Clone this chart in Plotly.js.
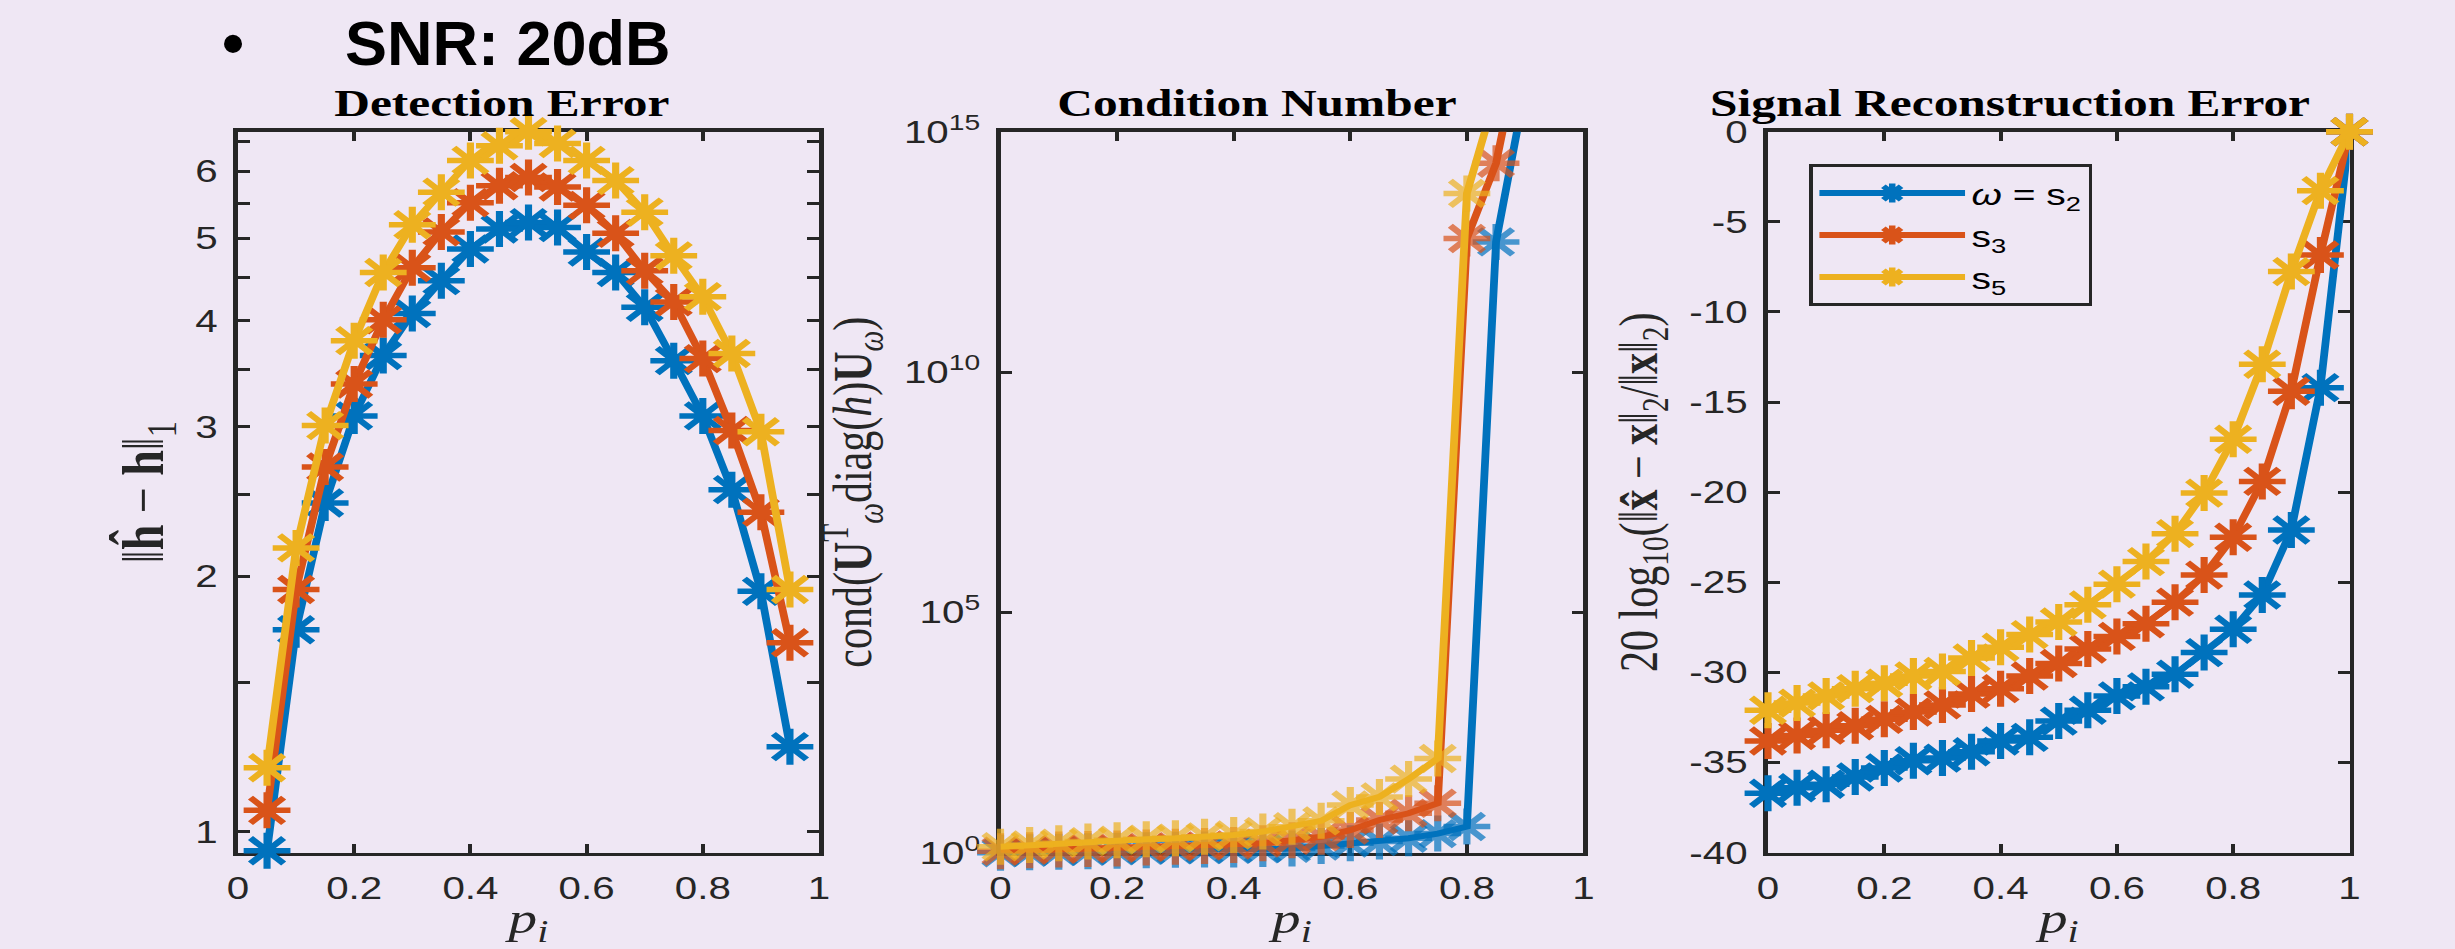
<!DOCTYPE html>
<html>
<head>
<meta charset="utf-8">
<script src="https://cdn.plot.ly/plotly-3.0.1.min.js"></script>
<style>
html, body { margin: 0; padding: 0; background: #EFE7F4; width: 2455px; height: 949px; overflow: hidden; }
#chart { position: absolute; left: 0; top: 0; width: 1888px; height: 949px; transform-origin: 0 0; }
#slideTitle { position: absolute; left: 222px; top: 12px; font-family: 'Liberation Sans', Arial, sans-serif;
  font-weight: bold; font-size: 63px; line-height: 1; color: #000; white-space: nowrap; }
#slideTitle .bullet { display: inline-block; width: 123px; }
</style>
</head>
<body>
<div id="chart"></div>
<div id="slideTitle"><span class="bullet">•</span>SNR: 20dB</div>
<script>
// ---------------- data ----------------
const seriesNames = ['<i>ω</i> = s<sub>2</sub>', 's<sub>3</sub>', 's<sub>5</sub>'];
const seriesColors = ['#0072BD', '#D95319', '#EDB120'];

// Panel 1: Detection Error
const detX = [0.05, 0.10, 0.15, 0.20, 0.25, 0.30, 0.35, 0.40, 0.45, 0.50, 0.55, 0.60, 0.65, 0.70, 0.75, 0.80, 0.85, 0.90, 0.95];
const detS2 = [0.95, 1.73, 2.44, 3.09, 3.64, 4.08, 4.46, 4.86, 5.13, 5.22, 5.15, 4.82, 4.56, 4.15, 3.59, 3.09, 2.53, 1.92, 1.26];
const detS3 = [1.06, 1.93, 2.69, 3.37, 4.01, 4.62, 5.09, 5.51, 5.77, 5.90, 5.75, 5.47, 5.07, 4.58, 4.21, 3.61, 2.97, 2.38, 1.67];
const detS5 = [1.19, 2.16, 3.01, 3.79, 4.56, 5.19, 5.67, 6.18, 6.43, 6.68, 6.47, 6.18, 5.85, 5.37, 4.77, 4.27, 3.66, 2.96, 1.93];
const detTickVals = [1, 2, 3, 4, 5, 6];
const detTickText = ['1', '2', '3', '4', '5', '6'];
const detMinorTicks = [1.5, 2.5, 3.5, 4.5, 5.5, 6.5];

// Panel 2: Condition Number
const condX = [0, 0.05, 0.10, 0.15, 0.20, 0.25, 0.30, 0.35, 0.40, 0.45, 0.50, 0.55, 0.60, 0.65, 0.70, 0.75, 0.80, 0.85, 0.90];
const condS2 = [1.00, 1.02, 1.05, 1.07, 1.10, 1.12, 1.15, 1.16, 1.17, 1.20, 1.23, 1.38, 1.58, 1.70, 2.0, 2.5, 3.5, 5.1e12, 8e15];
const condS3 = [1.07, 1.12, 1.17, 1.20, 1.23, 1.29, 1.33, 1.38, 1.45, 1.58, 1.82, 2.14, 2.95, 4.79, 6.61, 10.7, 6.0e12, 2.2e14, 2e17];
const condS5 = [1.33, 1.45, 1.58, 1.70, 1.82, 1.91, 2.0, 2.14, 2.34, 2.75, 3.47, 4.6, 9.8, 14.5, 34, 91.2, 5.2e13, 6.3e15, null];
const condTickVals = [1, 1e5, 1e10, 1e15];
const condTickText = ['10<sup>0</sup>', '10<sup>5</sup>', '10<sup>10</sup>', '10<sup>15</sup>'];

// Panel 3: Signal Reconstruction Error
const recX = [0, 0.05, 0.10, 0.15, 0.20, 0.25, 0.30, 0.35, 0.40, 0.45, 0.50, 0.55, 0.60, 0.65, 0.70, 0.75, 0.80, 0.85, 0.90, 0.95, 1.0];
const recS2 = [-36.7, -36.4, -36.2, -35.8, -35.3, -34.9, -34.75, -34.4, -33.8, -33.6, -32.7, -32.1, -31.3, -30.8, -30.1, -28.9, -27.6, -25.7, -22.1, -14.2, 0];
const recS3 = [-33.8, -33.5, -33.2, -32.96, -32.6, -32.2, -31.8, -31.2, -30.9, -30.2, -29.5, -28.7, -28.0, -27.3, -26.1, -24.6, -22.5, -19.4, -14.4, -6.84, 0];
const recS5 = [-32.1, -31.7, -31.3, -30.9, -30.6, -30.2, -29.95, -29.2, -28.6, -27.9, -27.2, -26.25, -25.1, -23.85, -22.3, -20.05, -17.06, -12.9, -7.76, -3.27, 0];
const recTickVals = [-40, -35, -30, -25, -20, -15, -10, -5, 0];
const recTickText = ['-40', '-35', '-30', '-25', '-20', '-15', '-10', '-5', '0'];

const xTickVals = [0, 0.2, 0.4, 0.6, 0.8, 1];
const xTickText = ['0', '0.2', '0.4', '0.6', '0.8', '1'];

const panelTitles = ['Detection Error', 'Condition Number', 'Signal Reconstruction Error'];

// ---------------- rendering ----------------
const W_OUT = 2455, W_IN = 1888, H = 949;
document.getElementById('chart').style.transform = 'scaleX(' + (W_OUT / W_IN) + ')';

const INK = '#262626';
const TICK_FONT = { family: 'Liberation Sans, Arial, sans-serif', size: 31, color: INK };
const MATH_FONT = { family: 'Liberation Serif, Times New Roman, serif', size: 42, color: INK };
const MARKER_SIZE = 30;

function mk(x, y, i, xa, ya, showLegend, clipTop) {
  const sizes = clipTop ? y.map(v => (v !== null && v <= clipTop) ? MARKER_SIZE : 0) : MARKER_SIZE;
  return {
    type: 'scatter', mode: 'lines+markers', x: x, y: y,
    xaxis: xa, yaxis: ya, name: seriesNames[i], showlegend: showLegend,
    cliponaxis: false, hoverinfo: 'skip',
    line: { color: seriesColors[i], width: 6 },
    marker: { symbol: 'asterisk-open', size: sizes, color: seriesColors[i], line: { color: seriesColors[i], width: 5.5 } }
  };
}

const traces = [
  mk(detX, detS2, 0, 'x', 'y', false), mk(detX, detS3, 1, 'x', 'y', false), mk(detX, detS5, 2, 'x', 'y', false),
  mk(condX, condS2, 0, 'x2', 'y2', false, 1e15), mk(condX, condS3, 1, 'x2', 'y2', false, 1e15), mk(condX, condS5, 2, 'x2', 'y2', false, 1e15),
  mk(recX, recS2, 0, 'x3', 'y3', true), mk(recX, recS3, 1, 'x3', 'y3', true), mk(recX, recS5, 2, 'x3', 'y3', true)
];

function frame(extra) {
  return Object.assign({
    showline: true, linecolor: INK, linewidth: 3.5, mirror: 'ticks',
    ticks: 'inside', ticklen: 9, tickwidth: 3, tickcolor: INK,
    showgrid: false, zeroline: false, tickfont: TICK_FONT,
    layer: 'below traces', fixedrange: true, automargin: false
  }, extra);
}

const yDom = [1 - 852.7 / H, 1 - 131.7 / H];
const px = v => v / W_OUT;
const dom1 = [px(238), px(819)], dom2 = [px(1000.5), px(1583.5)], dom3 = [px(1768), px(2349.5)];

function xAxis(dom, anchor) {
  return frame({ domain: dom, anchor: anchor, range: [0, 1], tickmode: 'array', tickvals: xTickVals, ticktext: xTickText,
    ticklabelstandoff: 6,
    title: { text: '<i>p</i><sub><i>i</i></sub>', font: Object.assign({}, MATH_FONT, { size: 44 }), standoff: 6 } });
}

const layout = {
  width: W_IN, height: H,
  margin: { l: 0, r: 0, t: 0, b: 0 },
  paper_bgcolor: '#EFE7F4', plot_bgcolor: '#EFE7F4',
  showlegend: true,
  xaxis: xAxis(dom1, 'y'),
  xaxis2: xAxis(dom2, 'y2'),
  xaxis3: xAxis(dom3, 'y3'),
  yaxis: frame({ domain: yDom, anchor: 'x', type: 'log', range: [Math.log10(0.945), Math.log10(6.68)],
    tickmode: 'array', tickvals: detTickVals, ticktext: detTickText, ticklabelstandoff: 6,
    minor: { tickmode: 'array', tickvals: detMinorTicks, ticks: 'inside', ticklen: 9, tickwidth: 3, tickcolor: INK, showgrid: false },
    title: { text: '‖<b>ĥ</b> − <b>h</b>‖<sub>1</sub>', font: Object.assign({}, MATH_FONT, { size: 46 }), standoff: 10 } }),
  yaxis2: frame({ domain: yDom, anchor: 'x2', type: 'log', range: [0, 15],
    tickmode: 'array', tickvals: condTickVals, ticktext: condTickText, ticklabelstandoff: 6,
    title: { text: 'cond(<b>U</b><sup>T</sup><sub><i>ω</i></sub>diag(<i>h</i>)<b>U</b><sub><i>ω</i></sub>)', font: MATH_FONT, standoff: 12 } }),
  yaxis3: frame({ domain: yDom, anchor: 'x3', range: [-40, 0],
    tickmode: 'array', tickvals: recTickVals, ticktext: recTickText, ticklabelstandoff: 6,
    title: { text: '20 log<sub>10</sub>(‖<b>x̂</b> − <b>x</b>‖<sub>2</sub>/‖<b>x</b>‖<sub>2</sub>)', font: MATH_FONT, standoff: 12 } }),
  legend: {
    x: px(1809), y: 1 - 164 / H, xanchor: 'left', yanchor: 'top',
    bgcolor: 'rgba(0,0,0,0)', bordercolor: INK, borderwidth: 3,
    font: { family: 'Liberation Sans, Arial, sans-serif', size: 30, color: '#000' },
    itemwidth: 112, tracegroupgap: 0, itemclick: false, itemdoubleclick: false
  },
  annotations: [
    { text: '<b>' + panelTitles[0] + '</b>', x: px(502), y: 1 - 103 / H },
    { text: '<b>' + panelTitles[1] + '</b>', x: px(1257), y: 1 - 103 / H },
    { text: '<b>' + panelTitles[2] + '</b>', x: px(2010), y: 1 - 103 / H }
  ].map(a => Object.assign(a, { xref: 'paper', yref: 'paper', xanchor: 'center', yanchor: 'middle', showarrow: false,
    font: { family: 'Liberation Serif, Times New Roman, serif', size: 38, color: '#000' } }))
};

Plotly.newPlot('chart', traces, layout, { staticPlot: true, displayModeBar: false });
</script>
</body>
</html>
